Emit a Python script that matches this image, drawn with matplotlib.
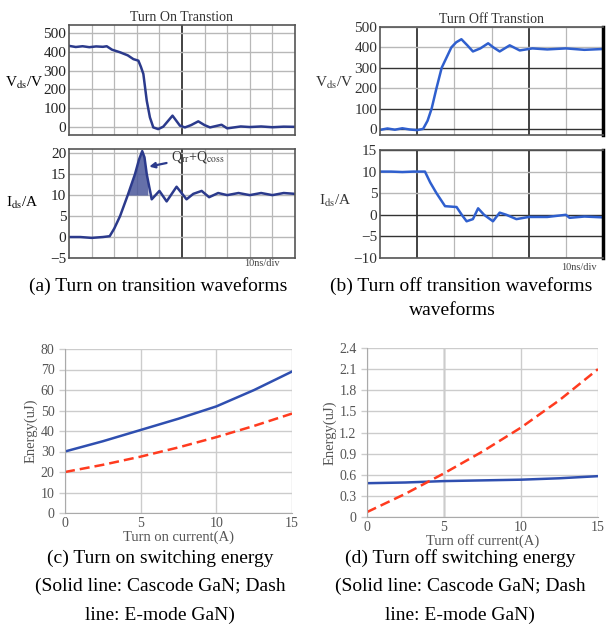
import numpy as np
import matplotlib.pyplot as plt

plt.rcParams['font.family'] = ['Liberation Serif', 'DejaVu Serif']
plt.rcParams['mathtext.fontset'] = 'stix'

# ------------------------------------------------------------
# Data (time in divisions of 10 ns)
# ------------------------------------------------------------

on_t = [0, 0.3, 0.6, 0.9, 1.2, 1.5, 1.67, 1.9, 2.26, 2.6, 2.85, 3.07, 3.18, 3.29, 3.44,
        3.58, 3.73, 3.95, 4.17, 4.58, 4.91, 5.13, 5.4, 5.72, 6.0, 6.24, 6.75, 7.0,
        7.6, 8.0, 8.5, 9.0, 9.5, 10.0]
on_vds = [430, 424, 428, 423, 427, 425, 428, 410, 396, 380, 360, 352, 320, 282, 141,
          53, 0, -9, 4, 62, 9, 0, 12, 32, 12, 0, 14, -5, 5, 2, 5, 1, 4, 3]

on_ti = [0, 0.5, 1.0, 1.5, 1.8, 2.0, 2.26, 2.6, 2.92, 3.1, 3.24, 3.34, 3.44, 3.66,
         4.0, 4.32, 4.76, 5.2, 5.5, 5.87, 6.2, 6.6, 7.0, 7.5, 8.0, 8.5, 9.0, 9.5, 10.0]
on_id = [0, 0, -0.2, 0, 0.2, 2.0, 5.0, 10.0, 15.0, 18.5, 20.5, 19.0, 15.0, 9.0,
         11.0, 8.5, 12.0, 9.0, 10.3, 11.0, 9.5, 10.5, 10.0, 10.5, 10.0, 10.5, 10.0, 10.5, 10.3]

off_t = [0, 0.2, 0.4, 0.6, 0.8, 1.0, 1.16, 1.28, 1.39, 1.52, 1.66, 1.79, 1.92, 2.05,
         2.19, 2.35, 2.5, 2.7, 2.91, 3.05, 3.22, 3.49, 3.76, 4.1, 4.5, 5.0, 5.5, 6.0]
off_vds = [-5, 2, -4, 3, -3, -6, 0, 40, 100, 200, 300, 350, 400, 425,
           440, 410, 380, 395, 420, 400, 380, 410, 385, 395, 390, 395, 388, 392]

off_ti = [0, 0.3, 0.6, 0.9, 1.21, 1.35, 1.52, 1.75, 2.06, 2.2, 2.33, 2.5, 2.64, 2.8,
          3.04, 3.22, 3.4, 3.67, 4.0, 4.5, 5.0, 5.1, 5.5, 6.0]
off_id = [10, 10, 9.9, 10, 10, 7.5, 5.0, 2.0, 1.8, 0, -1.5, -1.0, 1.5, 0,
          -1.5, 0.5, 0, -1.0, -0.5, -0.5, 0, -0.7, -0.4, -0.6]

current = [0, 2.5, 5, 7.5, 10, 12.5, 15]
on_cascode = [30, 35, 40.5, 46, 52, 60, 69]
on_emode = [20, 23.5, 27.5, 32, 37, 42.5, 48.5]
off_cascode = [0.48, 0.49, 0.51, 0.52, 0.53, 0.55, 0.58]
off_emode = [0.07, 0.33, 0.62, 0.93, 1.27, 1.66, 2.1]

W, H = 608, 627
fig = plt.figure(figsize=(W / 100, H / 100), dpi=100)


def box(x0, y0, x1, y1):
    return [x0 / W, 1 - y1 / H, (x1 - x0) / W, (y1 - y0) / H]


def scope_axes(rect, ylim, yticks, ndiv, dark_x, dark_y):
    ax = fig.add_axes(rect)
    ax.set_xlim(0, ndiv)
    ax.set_ylim(*ylim)
    ax.set_yticks(yticks)
    ax.set_xticks([])
    for x in range(1, ndiv):
        c = '#222222' if x in dark_x else '#b8b8b8'
        ax.axvline(x, color=c, lw=1.2 if x in dark_x else 0.9, zorder=0)
    for y in yticks:
        c = '#333333' if y in dark_y else '#b8b8b8'
        ax.axhline(y, color=c, lw=1.0, zorder=0)
    for s in ax.spines.values():
        s.set_color('#555555')
        s.set_linewidth(1.2)
    ax.tick_params(axis='y', length=0, pad=2, labelsize=11, labelcolor='#333333')
    return ax


# (a) turn on
ax = scope_axes(box(69, 25, 295, 135), (-40, 540), [0, 100, 200, 300, 400, 500], 10, [5], [])
ax.plot(on_t, on_vds, color='#2b3a8c', lw=1.8)
ax.set_title('Turn On Transtion', fontsize=10, color='#333333', pad=3)
ax.tick_params(axis='y', labelcolor='#222222')

ax = scope_axes(box(69, 149, 295, 258), (-5, 21), [-5, 0, 5, 10, 15, 20], 10, [5], [])
ax.plot(on_ti, on_id, color='#2b3a8c', lw=1.8)
t_fine = np.linspace(on_ti[7], on_ti[12] + 0.05, 60)
i_fine = np.interp(t_fine, on_ti, on_id)
ax.fill_between(t_fine, 10, i_fine, where=i_fine >= 10, color='#4a579a', alpha=0.85, lw=0)
ax.annotate(r'Q$_{\mathrm{rr}}$+Q$_{\mathrm{coss}}$', xy=(3.55, 16.8), xytext=(4.5, 19.2),
            fontsize=10, color='#333333', va='center', ha='left',
            arrowprops=dict(arrowstyle='-|>', color='#2b3a8c', lw=1.6, mutation_scale=8,
                            shrinkA=1, shrinkB=0))
ax.tick_params(axis='y', labelcolor='#222222')
fig.text(262 / W, 1 - 264 / H, '10ns/div', fontsize=7.5, color='#444444', ha='center', va='center')

fig.text(24 / W, 1 - 83 / H, r'V$_{\mathrm{ds}}$/V', fontsize=11, ha='center', va='center')
fig.text(22 / W, 1 - 203 / H, r'I$_{\mathrm{ds}}$/A', fontsize=11, ha='center', va='center')

# (b) turn off
ax = scope_axes(box(380, 27, 603, 135), (-30, 500), [0, 100, 200, 300, 400, 500], 6, [1, 4], [0, 100, 300])
ax.plot(off_t, off_vds, color='#2f5fce', lw=1.8)
ax.set_title('Turn Off Transtion', fontsize=10, color='#333333', pad=3)
ax.spines['right'].set_color('black')
ax.spines['right'].set_linewidth(2.5)

ax = scope_axes(box(380, 150, 603, 258), (-10, 15), [-10, -5, 0, 5, 10, 15], 6, [1, 4], [-5, 0, 15])
ax.plot(off_ti, off_id, color='#2f5fce', lw=1.8)
ax.spines['right'].set_color('black')
ax.spines['right'].set_linewidth(2.5)
fig.text(579 / W, 1 - 267 / H, '10ns/div', fontsize=7.5, color='#444444', ha='center', va='center')

fig.text(334 / W, 1 - 83 / H, r'V$_{\mathrm{ds}}$/V', fontsize=11, ha='center', va='center', color='#333333')
fig.text(335 / W, 1 - 201 / H, r'I$_{\mathrm{ds}}$/A', fontsize=11, ha='center', va='center', color='#333333')

# captions for the waveforms
fig.text(158 / W, 1 - 286 / H, '(a) Turn on transition waveforms', fontsize=14, ha='center', va='center')
fig.text(461 / W, 1 - 286 / H, '(b) Turn off transition waveforms', fontsize=14, ha='center', va='center')
fig.text(452 / W, 1 - 310 / H, 'waveforms', fontsize=14, ha='center', va='center')


def energy_axes(rect, ylim, yticks):
    ax = fig.add_axes(rect)
    ax.set_xlim(0, 15)
    ax.set_ylim(*ylim)
    ax.set_xticks([0, 5, 10, 15])
    ax.set_yticks(yticks)
    ax.grid(True, color='#cccccc', lw=1.0)
    ax.set_axisbelow(True)
    for s in ['top', 'right']:
        ax.spines[s].set_visible(False)
    for s in ['left', 'bottom']:
        ax.spines[s].set_color('#aaaaaa')
    ax.tick_params(colors='#cccccc', labelcolor='#555555', labelsize=10, length=4, width=1.0)
    ax.tick_params(axis='x', length=0, pad=3)
    return ax


# (c) turn on energy
ax = energy_axes(box(65, 349, 292, 513), (0, 80), [0, 10, 20, 30, 40, 50, 60, 70, 80])
ax.plot(current, on_cascode, color='#2f4fb0', lw=1.8)
ax.plot(current, on_emode, color='#ff3b1f', lw=1.8, ls=(0, (4, 2)))
ax.set_xlabel('Turn on current(A)', fontsize=10.5, color='#555555', labelpad=0)
ax.set_ylabel('Energy(uJ)', fontsize=10.5, color='#555555', labelpad=2)

# (d) turn off energy
ax = energy_axes(box(367, 348, 598, 517), (0, 2.4), [0, 0.3, 0.6, 0.9, 1.2, 1.5, 1.8, 2.1, 2.4])
ax.set_yticklabels(['0', '0.3', '0.6', '0.9', '1.2', '1.5', '1.8', '2.1', '2.4'])
ax.plot(current, off_cascode, color='#2f4fb0', lw=1.8)
ax.plot(current, off_emode, color='#ff3b1f', lw=1.8, ls=(0, (4, 2)))
ax.axvline(5, color='#888888', lw=1.0, zorder=0)
ax.set_xlabel('Turn off current(A)', fontsize=10.5, color='#555555', labelpad=0)
ax.set_ylabel('Energy(uJ)', fontsize=10.5, color='#555555', labelpad=2)

caption_c = ['(c) Turn on switching energy', '(Solid line: Cascode GaN; Dash', 'line: E-mode GaN)']
caption_d = ['(d) Turn off switching energy', '(Solid line: Cascode GaN; Dash', 'line: E-mode GaN)']
for i, (lc, ld) in enumerate(zip(caption_c, caption_d)):
    y = 1 - (558 + i * 28.5) / H
    fig.text(160 / W, y, lc, fontsize=14, ha='center', va='center')
    fig.text(460 / W, y, ld, fontsize=14, ha='center', va='center')

fig.savefig('out.png', dpi=100)
